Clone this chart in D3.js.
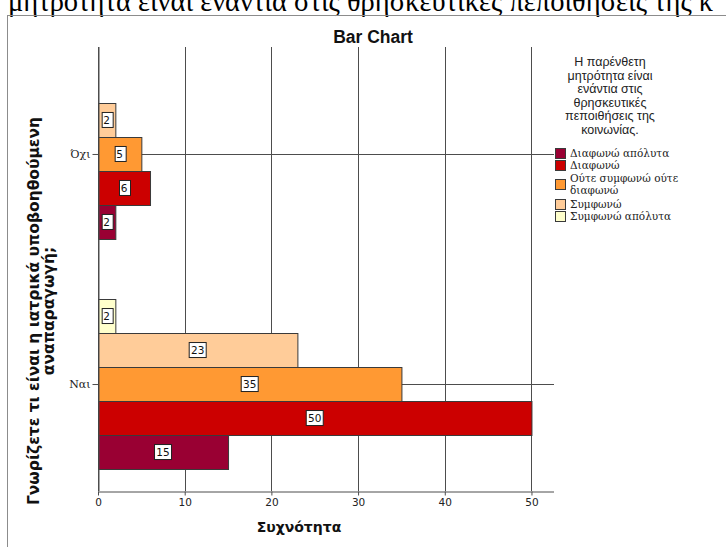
<!DOCTYPE html>
<html>
<head>
<meta charset="utf-8">
<script src="https://cdn.jsdelivr.net/npm/d3@7"></script>
<style>
  html, body { margin: 0; padding: 0; background: #fff; overflow: hidden; }
  svg { display: block; }
</style>
</head>
<body>
<script>
// Categories on the vertical axis and the response series for each group
const categories = ["Όχι", "Ναι"];
const seriesNames = [
  "Διαφωνώ απόλυτα",
  "Διαφωνώ",
  "Ούτε συμφωνώ ούτε διαφωνώ",
  "Συμφωνώ",
  "Συμφωνώ απόλυτα"
];
const seriesColors = ["#990033", "#cc0000", "#ff9933", "#ffcc99", "#ffffcc"];
// Counts per category, in the order of seriesNames
const valuesOxi = [2, 6, 5, 2, 0];
const valuesNai = [15, 50, 35, 23, 2];
const xTicks = [0, 10, 20, 30, 40, 50];

const W = 726, H = 547;
const plotLeft = 98, plotRight = 554, plotTop = 47, plotBottom = 491;

const svg = d3.select("body").append("svg").attr("width", W).attr("height", H);

// heading line above the frame (runs off the top edge)
svg.append("text")
  .attr("x", 8).attr("y", 11)
  .attr("font-family", "Liberation Serif, serif")
  .attr("font-size", 28.5)
  .attr("fill", "#000")
  .text("μητρότητα είναι ενάντια στις θρησκευτικές πεποιθήσεις της κ");

// outer frame
svg.append("rect")
  .attr("x", 7.5).attr("y", 15.5).attr("width", 740).attr("height", 560)
  .attr("fill", "none").attr("stroke", "#8c8c8c").attr("stroke-width", 1);

const x = d3.scaleLinear().domain([0, 52.6]).range([plotLeft, plotRight]);
const y = d3.scalePoint().domain(categories).range([plotTop, plotBottom]).padding(0.465);
const inner = d3.scaleBand().domain(seriesNames).range([85, -85]).paddingInner(0);

const rows = [];
categories.forEach((c, ci) => {
  const vals = ci === 0 ? valuesOxi : valuesNai;
  seriesNames.forEach((s, si) => rows.push({ cat: c, series: s, value: vals[si], color: seriesColors[si] }));
});

// vertical gridlines
svg.append("g").selectAll("line").data(xTicks).join("line")
  .attr("x1", d => Math.round(x(d)) + 0.5).attr("x2", d => Math.round(x(d)) + 0.5)
  .attr("y1", plotTop).attr("y2", plotBottom)
  .attr("stroke", "#4d4d4d").attr("stroke-width", 1);

// category reference lines
svg.append("g").selectAll("line").data(categories).join("line")
  .attr("x1", plotLeft).attr("x2", plotRight)
  .attr("y1", d => Math.round(y(d)) + 0.5).attr("y2", d => Math.round(y(d)) + 0.5)
  .attr("stroke", "#4d4d4d").attr("stroke-width", 1);

// bars
svg.append("g").selectAll("rect").data(rows.filter(r => r.value > 0)).join("rect")
  .attr("x", x(0) + 0.5)
  .attr("y", d => Math.round(y(d.cat) + inner(d.series)) + 0.5)
  .attr("width", d => x(d.value) - x(0))
  .attr("height", inner.bandwidth())
  .attr("fill", d => d.color)
  .attr("stroke", "#3a3a3a").attr("stroke-width", 1);

// axes
const xAxis = svg.append("g")
  .attr("transform", `translate(0,${plotBottom + 0.5})`)
  .call(d3.axisBottom(x).tickValues(xTicks).tickSize(4).tickPadding(3).tickSizeOuter(0));
xAxis.select(".domain").attr("d", `M${plotLeft},0.5H${plotRight}`).attr("stroke", "#4d4d4d");
xAxis.selectAll(".tick line").attr("stroke", "#4d4d4d");
xAxis.selectAll(".tick text")
  .attr("font-family", "DejaVu Sans, sans-serif").attr("font-size", 10.5).attr("fill", "#222");

const yAxis = svg.append("g")
  .attr("transform", `translate(${plotLeft + 0.5},0)`)
  .call(d3.axisLeft(y).tickSize(6).tickPadding(2).tickSizeOuter(0));
yAxis.select(".domain").attr("d", `M0.5,${plotTop}V${plotBottom}`).attr("stroke", "#4d4d4d");
yAxis.selectAll(".tick line").attr("stroke", "#4d4d4d");
yAxis.selectAll(".tick text")
  .attr("font-family", "DejaVu Serif, serif").attr("font-size", 11).attr("fill", "#222");

// value labels
const labels = svg.append("g").selectAll("g").data(rows.filter(r => r.value > 0)).join("g")
  .attr("transform", d => `translate(${x(0) + (x(d.value) - x(0)) / 2},${y(d.cat) + inner(d.series) + inner.bandwidth() / 2})`);
labels.append("text")
  .attr("text-anchor", "middle").attr("dy", "0.36em")
  .attr("font-family", "DejaVu Sans, sans-serif").attr("font-size", 10.5).attr("fill", "#111")
  .text(d => d.value);
labels.each(function () {
  const g = d3.select(this);
  const bb = g.select("text").node().getBBox();
  g.insert("rect", "text")
    .attr("x", Math.round(bb.x - 2) + 0.5).attr("y", -7.5)
    .attr("width", Math.round(bb.width + 4)).attr("height", 15)
    .attr("fill", "#fff").attr("stroke", "#222").attr("stroke-width", 1);
});

// titles
svg.append("text")
  .attr("x", 373).attr("y", 43).attr("text-anchor", "middle")
  .attr("font-family", "Liberation Sans, Arial, sans-serif").attr("font-weight", "bold")
  .attr("font-size", 17.5).attr("fill", "#111")
  .text("Bar Chart");

svg.append("text")
  .attr("x", 299).attr("y", 532).attr("text-anchor", "middle")
  .attr("font-family", "DejaVu Sans, sans-serif").attr("font-weight", "bold")
  .attr("font-size", 14).attr("fill", "#111")
  .text("Συχνότητα");

const yTitle = svg.append("text")
  .attr("transform", "translate(39,311) rotate(-90)")
  .attr("text-anchor", "middle")
  .attr("font-family", "DejaVu Sans, sans-serif").attr("font-weight", "bold")
  .attr("font-size", 15.5).attr("fill", "#111");
yTitle.append("tspan").attr("x", 0).attr("y", 0).text("Γνωρίζετε τι είναι η ιατρικά υποβοηθούμενη");
yTitle.append("tspan").attr("x", 0).attr("y", 15).text("αναπαραγωγή;");

// legend
const legendTitle = ["Η παρένθετη", "μητρότητα είναι", "ενάντια στις", "θρησκευτικές", "πεποιθήσεις της", "κοινωνίας."];
svg.append("g").selectAll("text").data(legendTitle).join("text")
  .attr("x", 610).attr("y", (d, i) => 66 + i * 13.6)
  .attr("text-anchor", "middle")
  .attr("font-family", "Liberation Sans, Arial, sans-serif").attr("font-size", 12.5).attr("fill", "#222")
  .text(d => d);

const legendItems = [
  { i: 0, lines: ["Διαφωνώ απόλυτα"], y: 153 },
  { i: 1, lines: ["Διαφωνώ"], y: 165 },
  { i: 2, lines: ["Ούτε συμφωνώ ούτε", "διαφωνώ"], y: 184 },
  { i: 3, lines: ["Συμφωνώ"], y: 204 },
  { i: 4, lines: ["Συμφωνώ απόλυτα"], y: 216 }
];
const lg = svg.append("g").selectAll("g").data(legendItems).join("g");
lg.append("rect")
  .attr("x", 555.5).attr("y", d => Math.round(d.y - 5) + 0.5)
  .attr("width", 10).attr("height", 10)
  .attr("fill", d => seriesColors[d.i]).attr("stroke", "#3a3a3a");
lg.each(function (d) {
  const g = d3.select(this);
  const n = d.lines.length;
  d.lines.forEach((t, k) => {
    g.append("text")
      .attr("x", 570).attr("y", d.y + (k - (n - 1) / 2) * 12).attr("dy", "0.35em")
      .attr("font-family", "DejaVu Serif, serif").attr("font-size", 10.5).attr("fill", "#222")
      .text(t);
  });
});
</script>
</body>
</html>
